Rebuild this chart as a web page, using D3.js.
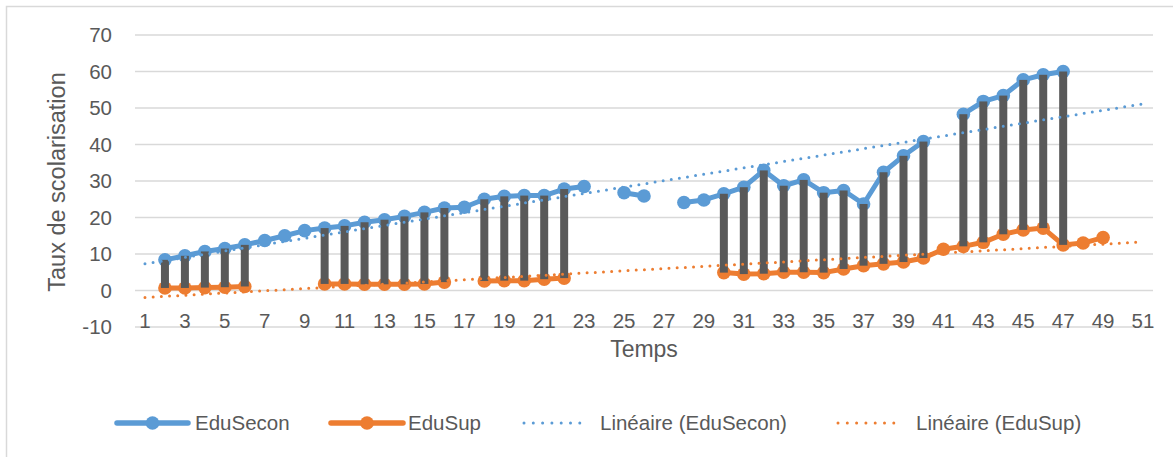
<!DOCTYPE html>
<html>
<head>
<meta charset="utf-8">
<script src="https://cdn.jsdelivr.net/npm/d3@7"></script>
<style>
  html, body { margin: 0; padding: 0; background: #fff; }
  svg { display: block; }
  text { font-family: "Liberation Sans", Arial, sans-serif; fill: #595959; }
</style>
</head>
<body>
<svg id="chart" width="1173" height="457"></svg>
<script>
// ---- data ----
const categories = [1,2,3,4,5,6,7,8,9,10,11,12,13,14,15,16,17,18,19,20,21,22,23,24,25,26,27,28,29,30,31,32,33,34,35,36,37,38,39,40,41,42,43,44,45,46,47,48,49,50,51];
const eduSecon = [null,8.4,9.5,10.7,11.5,12.5,13.7,15.0,16.4,17.1,17.7,18.7,19.4,20.3,21.4,22.6,22.8,25.0,25.8,26.0,26.0,27.8,28.5,null,26.8,25.9,null,24.1,24.8,26.5,28.3,32.9,28.7,30.3,26.8,27.4,23.7,32.4,36.9,40.8,null,48.3,51.8,53.4,57.7,59.1,60.0,null,null,null,null];
const eduSup = [null,0.7,0.7,0.8,0.9,1.1,null,null,null,1.8,1.8,1.7,1.7,1.7,1.8,2.3,null,2.6,2.7,2.7,3.1,3.4,null,null,null,null,null,null,null,4.9,4.5,4.6,5.0,5.0,4.9,5.9,6.8,7.3,7.8,8.9,11.3,12.1,13.2,15.4,16.6,17.1,12.5,13.0,14.5,null,null];
const yTicks = [-10,0,10,20,30,40,50,60,70];
const xTickLabels = [1,3,5,7,9,11,13,15,17,19,21,23,25,27,29,31,33,35,37,39,41,43,45,47,49,51];
const seriesNames = ["EduSecon","EduSup"];
const trendNames = ["Linéaire (EduSecon)","Linéaire (EduSup)"];
const colors = ["#5B9BD5","#ED7D31"];

// ---- layout ----
const svg = d3.select("#chart");
const plot = {left:135, right:1153, top:35, bottom:327};

const x = d3.scaleBand().domain(categories).range([plot.left, plot.right]).padding(0);
const cx = k => x(k) + x.bandwidth()/2;
const y = d3.scaleLinear().domain([-10,70]).range([plot.bottom, plot.top]);

// chart border
svg.append("rect").attr("x",6.5).attr("y",6.5).attr("width",1200).attr("height",500)
  .attr("fill","none").attr("stroke","#D9D9D9").attr("stroke-width",1.5);

// gridlines
svg.append("g").selectAll("line").data(yTicks).join("line")
  .attr("x1",plot.left).attr("x2",plot.right)
  .attr("y1",d=>y(d)).attr("y2",d=>y(d))
  .attr("stroke","#D9D9D9").attr("stroke-width",1.3);

// y tick labels
svg.append("g").selectAll("text").data(yTicks).join("text")
  .attr("x",112).attr("y",d=>y(d)).attr("dy","0.36em")
  .attr("text-anchor","end").attr("font-size","20.5px").text(d=>d);

// x tick labels
svg.append("g").selectAll("text").data(xTickLabels).join("text")
  .attr("x",d=>cx(d)).attr("y",328)
  .attr("text-anchor","middle").attr("font-size","20.5px").text(d=>d);

// axis titles
svg.append("text").attr("transform","translate(65,182) rotate(-90)")
  .attr("text-anchor","middle").attr("font-size","23.5px").text("Taux de scolarisation");
svg.append("text").attr("x",644).attr("y",357)
  .attr("text-anchor","middle").attr("font-size","23px").text("Temps");

// series lines & markers
const seriesData = [eduSecon, eduSup];
const line = d3.line().defined(d=>d.v!==null).x(d=>cx(d.k)).y(d=>y(d.v));
seriesData.forEach((vals,i)=>{
  const pts = categories.map((k,j)=>({k, v: vals[j]}));
  svg.append("path").datum(pts).attr("d",line)
    .attr("fill","none").attr("stroke",colors[i]).attr("stroke-width",5)
    .attr("stroke-linejoin","round").attr("stroke-linecap","round");
  svg.append("g").selectAll("circle").data(pts.filter(p=>p.v!==null)).join("circle")
    .attr("cx",p=>cx(p.k)).attr("cy",p=>y(p.v)).attr("r",6.8).attr("fill",colors[i]);
});

// high-low bars
const barPts = categories.map((k,j)=>({k, hi: eduSecon[j], lo: eduSup[j]}))
  .filter(p=>p.hi!==null && p.lo!==null);
const bw = 8;
svg.append("g").selectAll("rect").data(barPts).join("rect")
  .attr("x",p=>cx(p.k)-bw/2).attr("width",bw)
  .attr("y",p=>y(Math.max(p.hi,p.lo))).attr("height",p=>Math.abs(y(p.lo)-y(p.hi)))
  .attr("fill","#595959");

// linear trendlines (least squares over the available points)
function fit(vals){
  const pts = categories.map((k,j)=>[k, vals[j]]).filter(p=>p[1]!==null);
  const mx = d3.mean(pts,p=>p[0]), my = d3.mean(pts,p=>p[1]);
  const sxy = d3.sum(pts,p=>(p[0]-mx)*(p[1]-my)), sxx = d3.sum(pts,p=>(p[0]-mx)**2);
  const b = sxy/sxx, a = my - b*mx;
  return k => a + b*k;
}
seriesData.forEach((vals,i)=>{
  const f = fit(vals);
  const k0 = categories[0], k1 = categories[categories.length-1];
  svg.append("line").attr("x1",cx(k0)).attr("y1",y(f(k0))).attr("x2",cx(k1)).attr("y2",y(f(k1)))
    .attr("stroke",colors[i]).attr("stroke-width",3).attr("stroke-linecap","round")
    .attr("stroke-dasharray","0 8.2");
});

// legend
const ly = 423;
const legSeries = [{x1:117,x2:188,t:195},{x1:331,x2:403,t:408}];
legSeries.forEach((l,i)=>{
  svg.append("line").attr("x1",l.x1).attr("x2",l.x2).attr("y1",ly).attr("y2",ly)
    .attr("stroke",colors[i]).attr("stroke-width",5.5).attr("stroke-linecap","round");
  svg.append("circle").attr("cx",(l.x1+l.x2)/2).attr("cy",ly).attr("r",6.8).attr("fill",colors[i]);
  svg.append("text").attr("x",l.t).attr("y",ly).attr("dy","0.36em").attr("font-size","20.5px").text(seriesNames[i]);
});
const legTrend = [{x1:524,x2:589,t:600},{x1:838,x2:903,t:916}];
legTrend.forEach((l,i)=>{
  svg.append("line").attr("x1",l.x1).attr("x2",l.x2).attr("y1",ly).attr("y2",ly)
    .attr("stroke",colors[i]).attr("stroke-width",3).attr("stroke-linecap","round")
    .attr("stroke-dasharray","0 9.3");
  svg.append("text").attr("x",l.t).attr("y",ly).attr("dy","0.36em").attr("font-size","20.5px").text(trendNames[i]);
});
</script>
</body>
</html>
